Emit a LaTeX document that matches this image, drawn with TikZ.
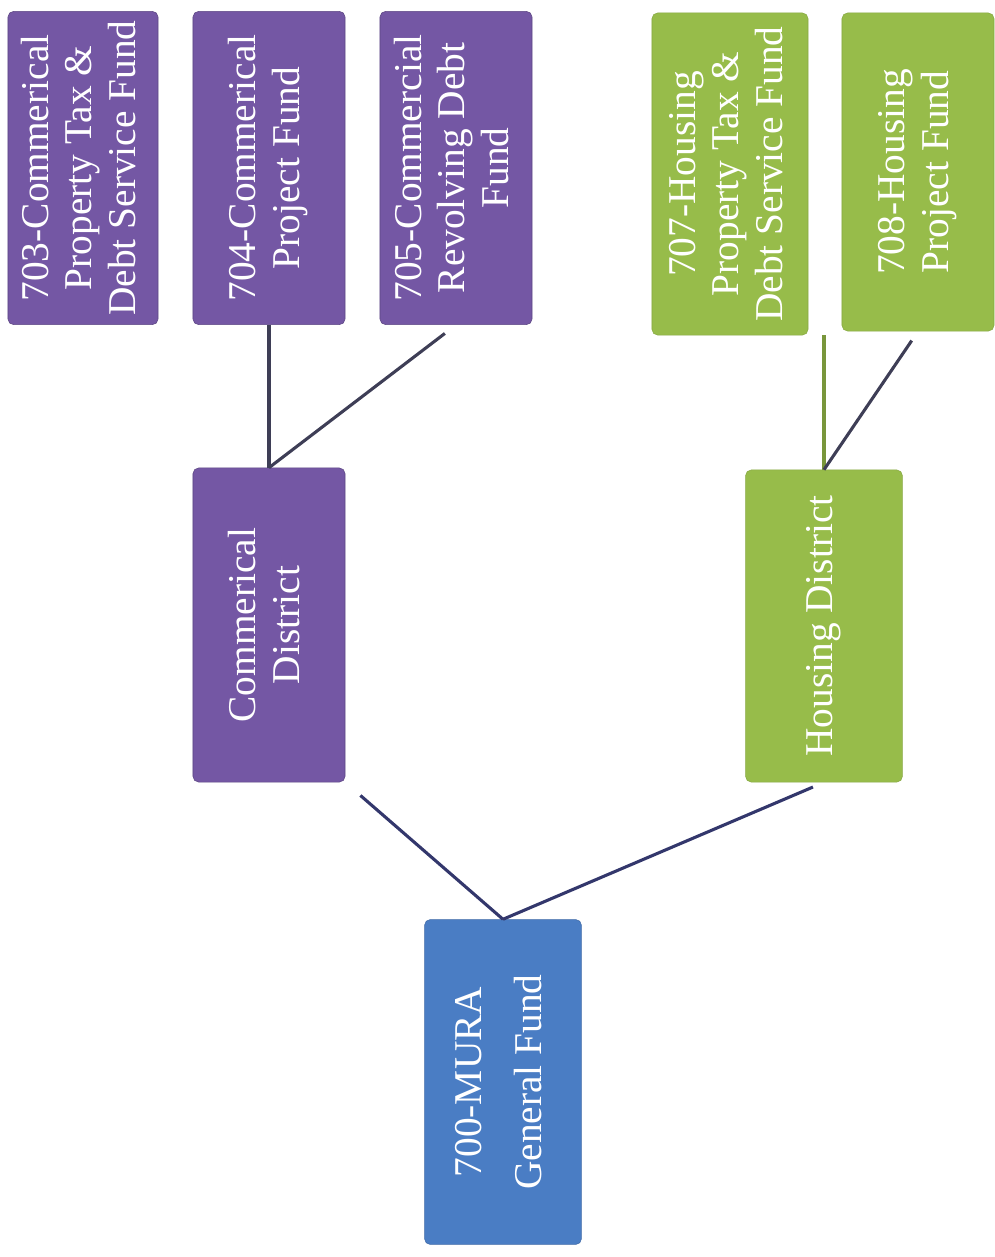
\documentclass[tikz,border=0pt]{standalone}
\usepackage{fontspec}
\setmainfont{Liberation Serif}
\usepackage{tikz}

\definecolor{fundpurple}{HTML}{7457A4}
\definecolor{fundgreen}{HTML}{97BC4A}
\definecolor{fundblue}{HTML}{4A7DC4}
\definecolor{linkgray}{HTML}{3E3E56}
\definecolor{linknavy}{HTML}{33376C}

\newcommand{\vtext}[1]{\rotatebox{90}{\begin{tabular}{@{}c@{}}#1\end{tabular}}}

\begin{document}
\begin{tikzpicture}[x=0.025cm, y=-0.025cm,
    fundbox/.style={rectangle, rounded corners=4pt, inner sep=0pt, text=white,
        font=\fontsize{28}{31}\selectfont},
    purplebox/.style={fundbox, fill=fundpurple, draw=fundpurple!80!black},
    greenbox/.style={fundbox, fill=fundgreen, draw=fundgreen!90!black},
    bluebox/.style={fundbox, fill=fundblue, draw=fundblue!85!black},
    link/.style={draw=linkgray, line width=2.2pt},
    greenlink/.style={draw=fundgreen!80!black, line width=2.2pt},
    baselink/.style={draw=linknavy, line width=2.2pt}]
    \useasboundingbox (0,0) rectangle (994,1257);

    % Commercial funds
    \node[purplebox, minimum width=3.75cm, minimum height=7.83cm] (c703) at (83,168) {\vtext{703-Commerical\\Property Tax \&\\Debt Service Fund}};
    \node[purplebox, minimum width=3.8cm, minimum height=7.83cm] (c704) at (269,168) {\vtext{704-Commerical\\Project Fund}};
    \node[purplebox, minimum width=3.8cm, minimum height=7.83cm] (c705) at (456,168) {\vtext{705-Commercial\\Revolving Debt\\Fund}};

    % Housing funds
    \node[greenbox, minimum width=3.9cm, minimum height=8.05cm] (h707) at (730,174) {\vtext{707-Housing\\Property Tax \&\\Debt Service Fund}};
    \node[greenbox, minimum width=3.8cm, minimum height=7.95cm] (h708) at (918,172) {\vtext{708-Housing\\Project Fund}};

    % Districts
    \node[purplebox, minimum width=3.8cm, minimum height=7.85cm] (cdist) at (269,625) {\vtext{Commerical\\District}};
    \node[greenbox, minimum width=3.92cm, minimum height=7.8cm] (hdist) at (824,626) {\vtext{Housing District}};

    % General fund
    \node[bluebox, minimum width=3.92cm, minimum height=8.12cm] (gen) at (503,1082) {\vtext{700-MURA\\[12pt]General Fund}};

    % Connections
    \draw[link] (c704.south) -- (cdist.north);
    \draw[link, shorten <=0.35cm] (c705.south) -- (cdist.north);
    \coordinate (hjoin) at (hdist.north |- h707.south);
    \draw[greenlink] (hjoin) -- (hdist.north);
    \draw[link, shorten <=0.28cm] (h708.south) -- (hdist.north);
    \draw[baselink, shorten <=0.5cm] (cdist.south east) -- (gen.north);
    \draw[baselink, shorten <=0.3cm] (hdist.south) -- (gen.north);
\end{tikzpicture}
\end{document}
